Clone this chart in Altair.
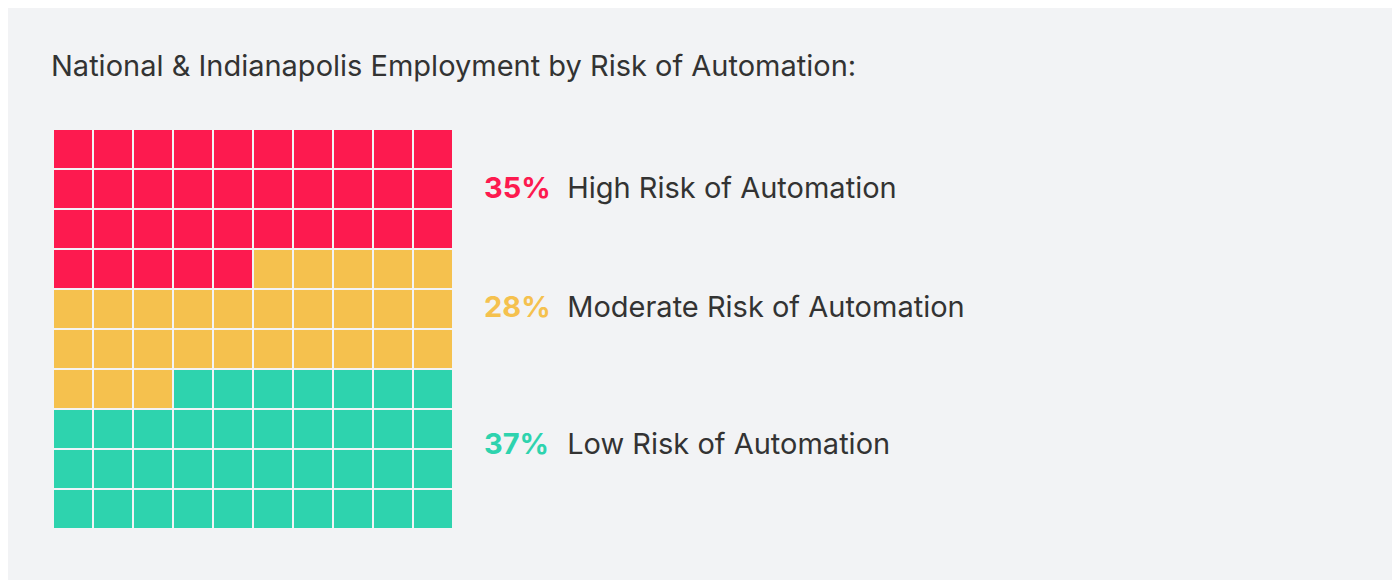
import altair as alt
import pandas as pd

categories = ["High Risk of Automation", "Moderate Risk of Automation", "Low Risk of Automation"]
percents = [35, 28, 37]
colors = ["#FD1A4F", "#F5C14E", "#2ED3AE"]
pct_labels = ["35%", "28%", "37%"]
label_rows = [1.7, 4.675, 8.1]   # baseline position of each label, in grid rows
pct_col = 10.75
name_col = 12.83

cells = []
i = 0
for cat, n in zip(categories, percents):
    for _ in range(n):
        cells.append({"cat": cat, "col": i % 10, "row": i // 10,
                      "col2": i % 10 + 1, "row2": i // 10 + 1})
        i += 1
cells = pd.DataFrame(cells)

labels = pd.DataFrame({"cat": categories, "pct": pct_labels, "row": label_rows,
                       "pcol": [pct_col] * 3, "ncol": [name_col] * 3})

xs = alt.Scale(domain=[0, 10], range=[0, 400], clamp=False, nice=False, zero=False)
ys = alt.Scale(domain=[0, 10], range=[0, 400], nice=False, zero=False)
color = alt.Color("cat:N", scale=alt.Scale(domain=categories, range=colors), legend=None)

FONT = "Inter"

rects = alt.Chart(cells).mark_rect(x2Offset=-2, y2Offset=-2).encode(
    x=alt.X("col:Q", scale=xs, axis=None),
    x2="col2:Q",
    y=alt.Y("row:Q", scale=ys, axis=None),
    y2="row2:Q",
    color=color,
)

pct = alt.Chart(labels).mark_text(align="left", baseline="alphabetic", font=FONT,
                                  fontSize=29, fontWeight="bold").encode(
    x=alt.X("pcol:Q", scale=xs), y=alt.Y("row:Q", scale=ys), text="pct:N", color=color)

names = alt.Chart(labels).mark_text(align="left", baseline="alphabetic", font=FONT,
                                    fontSize=29, color="#333333").encode(
    x=alt.X("ncol:Q", scale=xs), y=alt.Y("row:Q", scale=ys), text="cat:N")

chart = alt.layer(rects, pct, names).properties(
    width=400, height=400,
    title=alt.TitleParams("National & Indianapolis Employment by Risk of Automation:",
                          anchor="start", font=FONT, fontSize=29, fontWeight="normal",
                          color="#333333", baseline="alphabetic", offset=25, dx=-3),
    background="#F2F3F5",
    padding={"left": 46, "top": 122, "right": 938, "bottom": 50},
    autosize=alt.AutoSizeParams(type="none"),
).configure_view(stroke=None)

chart.save("out.html", embed_options={"renderer": "svg", "actions": False})
